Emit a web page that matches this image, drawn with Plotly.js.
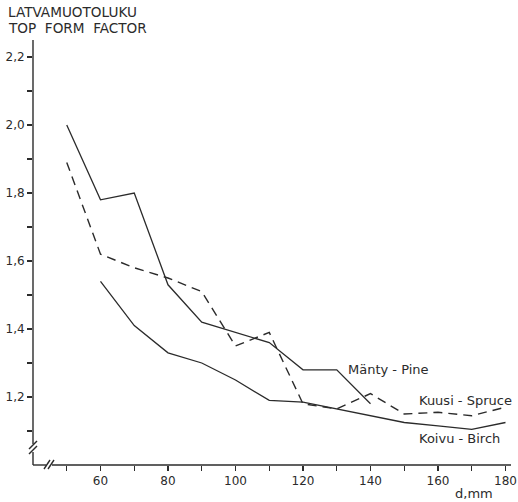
<!DOCTYPE html>
<html>
<head>
<meta charset="utf-8">
<script src="https://cdn.plot.ly/plotly-3.0.1.min.js"></script>
<style>html,body{margin:0;padding:0;background:#fff;}#chart{width:518px;height:502px;}</style>
</head>
<body>
<div id="chart"></div>
<script>
// Diameter classes, mm
const diamPine = [50, 60, 70, 80, 90, 100, 110, 120, 130, 140];
const pine     = [2.00, 1.78, 1.80, 1.53, 1.42, 1.39, 1.36, 1.28, 1.28, 1.18];

const diamSpruce = [50, 60, 70, 80, 90, 100, 110, 120, 130, 140, 150, 160, 170, 180];
const spruce     = [1.89, 1.62, 1.58, 1.55, 1.51, 1.35, 1.39, 1.18, 1.165, 1.21, 1.15, 1.155, 1.145, 1.17];

const diamBirch = [60, 70, 80, 90, 100, 110, 120, 130, 140, 150, 160, 170, 180];
const birch     = [1.54, 1.41, 1.33, 1.30, 1.25, 1.19, 1.185, 1.165, 1.145, 1.125, 1.115, 1.105, 1.125];

const yTickVals = [1.2, 1.4, 1.6, 1.8, 2.0, 2.2];
const yTickText = ["1,2", "1,4", "1,6", "1,8", "2,0", "2,2"];
const yMinorVals = [1.1, 1.3, 1.5, 1.7, 1.9, 2.1];
const xTickVals = [60, 80, 100, 120, 140, 160, 180];
const xMinorVals = [50, 70, 90, 110, 130, 150, 170];

const seriesLabels = ["Mänty - Pine", "Kuusi - Spruce", "Koivu - Birch"];
const yTitleLines = ["LATVAMUOTOLUKU", "TOP  FORM  FACTOR"];
const xTitle = "d,mm";

const ink = "#2b2b2b";
const font = "DejaVu Sans";

const traces = [
  {x: diamPine, y: pine, mode: "lines", line: {color: ink, width: 1.3}, name: seriesLabels[0]},
  {x: diamSpruce, y: spruce, mode: "lines", line: {color: ink, width: 1.4, dash: "9px,6px"}, name: seriesLabels[1]},
  {x: diamBirch, y: birch, mode: "lines", line: {color: ink, width: 1.3}, name: seriesLabels[2]}
];

// plot area geometry helpers (paper coords)
const L = 33, T = 40, B = 37, R = 7, W = 518, H = 502;
const pw = W - L - R, ph = H - T - B;
const px = v => (v - L) / pw;
const py = v => (H - B - v) / ph;

const seg = (x0, y0, x1, y1) => ({type: "line", xref: "paper", yref: "paper",
  x0: px(x0), y0: py(y0), x1: px(x1), y1: py(y1), line: {color: ink, width: 1.4}});

const shapes = [
  // y-axis with break
  seg(33, 40, 33, 444),
  seg(33, 452, 33, 465),
  seg(29, 449, 37, 441),
  seg(29, 454, 37, 446),
  // x-axis with break
  seg(33, 465, 46, 465),
  seg(52, 465, 511, 465),
  seg(44, 469, 50, 460),
  seg(48, 469, 54, 460)
];

const layout = {
  width: W, height: H,
  margin: {l: L, r: R, t: T, b: B},
  paper_bgcolor: "#fff", plot_bgcolor: "#fff",
  showlegend: false,
  font: {family: font, size: 12, color: ink},
  xaxis: {
    range: [40, 40 + pw / 3.375], showgrid: false, zeroline: false, showline: false,
    tickvals: xTickVals, ticks: "outside", ticklen: 5, tickwidth: 1.3, tickcolor: ink,
    tickfont: {family: font, size: 12, color: ink},
    minor: {tickvals: xMinorVals, ticks: "outside", ticklen: 5, tickwidth: 1.3, tickcolor: ink, showgrid: false}
  },
  yaxis: {
    range: [1.0, 1.0 + ph / 340], showgrid: false, zeroline: false, showline: false,
    tickvals: yTickVals, ticktext: yTickText, ticks: "outside", ticklen: 5, tickwidth: 1.3, tickcolor: ink,
    tickfont: {family: font, size: 12, color: ink},
    minor: {tickvals: yMinorVals, ticks: "outside", ticklen: 5, tickwidth: 1.3, tickcolor: ink, showgrid: false}
  },
  shapes: shapes,
  annotations: [
    {text: yTitleLines[0], xref: "paper", yref: "paper", x: px(6), y: py(12), xanchor: "left", yanchor: "middle", showarrow: false, font: {family: font, size: 13.6, color: ink}},
    {text: yTitleLines[1], xref: "paper", yref: "paper", x: px(6), y: py(28), xanchor: "left", yanchor: "middle", showarrow: false, font: {family: font, size: 13.6, color: ink}},
    {text: seriesLabels[0], xref: "x", yref: "y", x: 132.7, y: 1.282, xanchor: "left", yanchor: "middle", showarrow: false, font: {family: font, size: 13, color: ink}},
    {text: seriesLabels[1], xref: "x", yref: "y", x: 153.8, y: 1.19, xanchor: "left", yanchor: "middle", showarrow: false, font: {family: font, size: 13, color: ink}},
    {text: seriesLabels[2], xref: "x", yref: "y", x: 153.8, y: 1.078, xanchor: "left", yanchor: "middle", showarrow: false, font: {family: font, size: 13, color: ink}},
    {text: xTitle, xref: "paper", yref: "paper", x: px(474), y: py(493), xanchor: "center", yanchor: "middle", showarrow: false, font: {family: font, size: 13, color: ink}}
  ]
};

Plotly.newPlot("chart", traces, layout, {displayModeBar: false, staticPlot: true});
</script>
</body>
</html>
